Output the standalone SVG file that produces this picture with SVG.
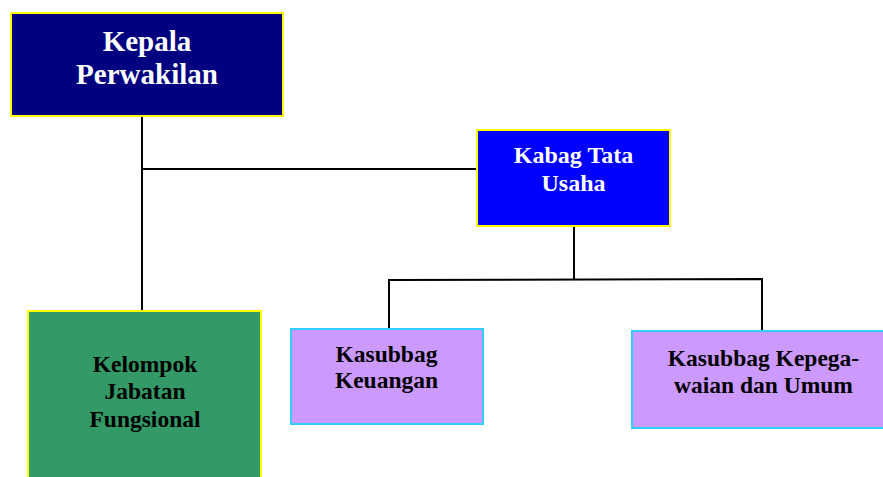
<svg xmlns="http://www.w3.org/2000/svg" width="883" height="477" viewBox="0 0 883 477">
<style>
.bx{stroke-width:2}
.y{stroke:#FFFF00}
.c{stroke:#33CCFF}
.t{font-family:"Liberation Serif","Times New Roman",serif;font-weight:bold;text-anchor:middle}
.w{fill:#FFFFFF}
.k{fill:#000000}
.ln{stroke:#000000;stroke-width:2;fill:none}
</style>
<g id="connectors">
<line class="ln" x1="142" y1="116" x2="142" y2="311"/>
<line class="ln" x1="142" y1="169" x2="477" y2="169"/>
<line class="ln" x1="574" y1="226" x2="574" y2="280"/>
<polyline class="ln" points="389,329 389,280 762,279 762,330"/>
</g>
<g id="kepala">
<rect class="bx y" x="11" y="13" width="272" height="103" fill="#000080"/>
<text class="t w" x="147" y="51" font-size="29">Kepala</text>
<text class="t w" x="147" y="83.5" font-size="29">Perwakilan</text>
</g>
<g id="kabag">
<rect class="bx y" x="477" y="130" width="193" height="96" fill="#0000FF"/>
<text class="t w" x="573.5" y="162.5" font-size="24">Kabag Tata</text>
<text class="t w" x="573.5" y="191" font-size="24">Usaha</text>
</g>
<g id="kelompok">
<rect class="bx y" x="28" y="311" width="233" height="180" fill="#339966"/>
<text class="t k" x="145" y="371.5" font-size="23.5">Kelompok</text>
<text class="t k" x="145" y="399" font-size="23.5">Jabatan</text>
<text class="t k" x="145" y="426.5" font-size="23.5">Fungsional</text>
</g>
<g id="keuangan">
<rect class="bx c" x="291" y="329" width="192" height="95" fill="#CC99FF"/>
<text class="t k" x="386.5" y="361.5" font-size="23.5">Kasubbag</text>
<text class="t k" x="386.5" y="388" font-size="23.5">Keuangan</text>
</g>
<g id="kepegawaian">
<rect class="bx c" x="632" y="331" width="263" height="97" fill="#CC99FF"/>
<text class="t k" x="763.5" y="366" font-size="23.5">Kasubbag Kepega-</text>
<text class="t k" x="763.5" y="392.5" font-size="23.5">waian dan Umum</text>
</g>
</svg>
